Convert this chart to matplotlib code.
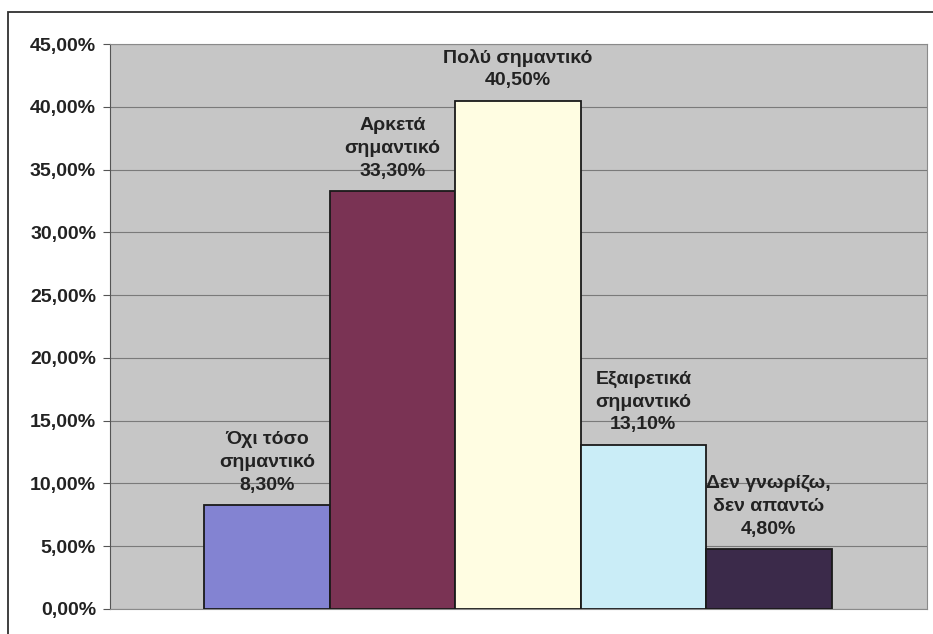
import matplotlib.pyplot as plt
from matplotlib.patches import Rectangle
from matplotlib.ticker import FuncFormatter

labels = ["Όχι τόσο\nσημαντικό", "Αρκετά\nσημαντικό", "Πολύ σημαντικό",
          "Εξαιρετικά\nσημαντικό", "Δεν γνωρίζω,\nδεν απαντώ"]
values = [8.3, 33.3, 40.5, 13.1, 4.8]
colors = ["#8383d2", "#7a3354", "#fffde2", "#caedf7", "#3b2a4a"]
yticks = [0, 5, 10, 15, 20, 25, 30, 35, 40, 45]

plt.rcParams['font.family'] = ['Liberation Sans', 'DejaVu Sans']

fig = plt.figure(figsize=(9.33, 6.34), dpi=100)
ax = fig.add_axes([110/933, 1 - 609/634, 817/933, 565/634])

# outer chart frame
fig.add_artist(Rectangle((8/933, -0.05), 1.0, 1 - 12/634 + 0.05,
                         transform=fig.transFigure, fill=False,
                         edgecolor="#303030", linewidth=1.3))

ax.set_facecolor("#c6c6c6")
x = list(range(len(values)))
bars = ax.bar(x, values, width=1.0, color=colors, edgecolor="#1a1a1a",
              linewidth=1.3, zorder=3)

for xi, v, lab in zip(x, values, labels):
    txt = lab + "\n" + ("%.2f%%" % v).replace(".", ",")
    ax.annotate(txt, (xi, v), xytext=(0, 8), textcoords="offset points",
                ha="center", va="bottom", fontsize=14, fontweight="bold",
                color="#222222", linespacing=1.45, zorder=4)

ax.set_xlim(-1.25, 5.26)
ax.set_ylim(0, 45)
ax.set_yticks(yticks)
ax.yaxis.set_major_formatter(FuncFormatter(lambda v, p: ("%.2f%%" % v).replace(".", ",")))
ax.set_xticks([])
ax.grid(axis="y", color="#7a7a7a", linewidth=0.8, zorder=1)
ax.tick_params(axis="y", length=5, width=0.8, color="#555555", pad=5,
               labelsize=14, labelcolor="#222222")
for lab in ax.get_yticklabels():
    lab.set_fontweight("bold")
for s in ["top", "right", "bottom"]:
    ax.spines[s].set_color("#8a8a8a")
    ax.spines[s].set_linewidth(0.8)
ax.spines["left"].set_color("#555555")
ax.spines["left"].set_linewidth(0.8)

fig.savefig("out.png", dpi=100)
